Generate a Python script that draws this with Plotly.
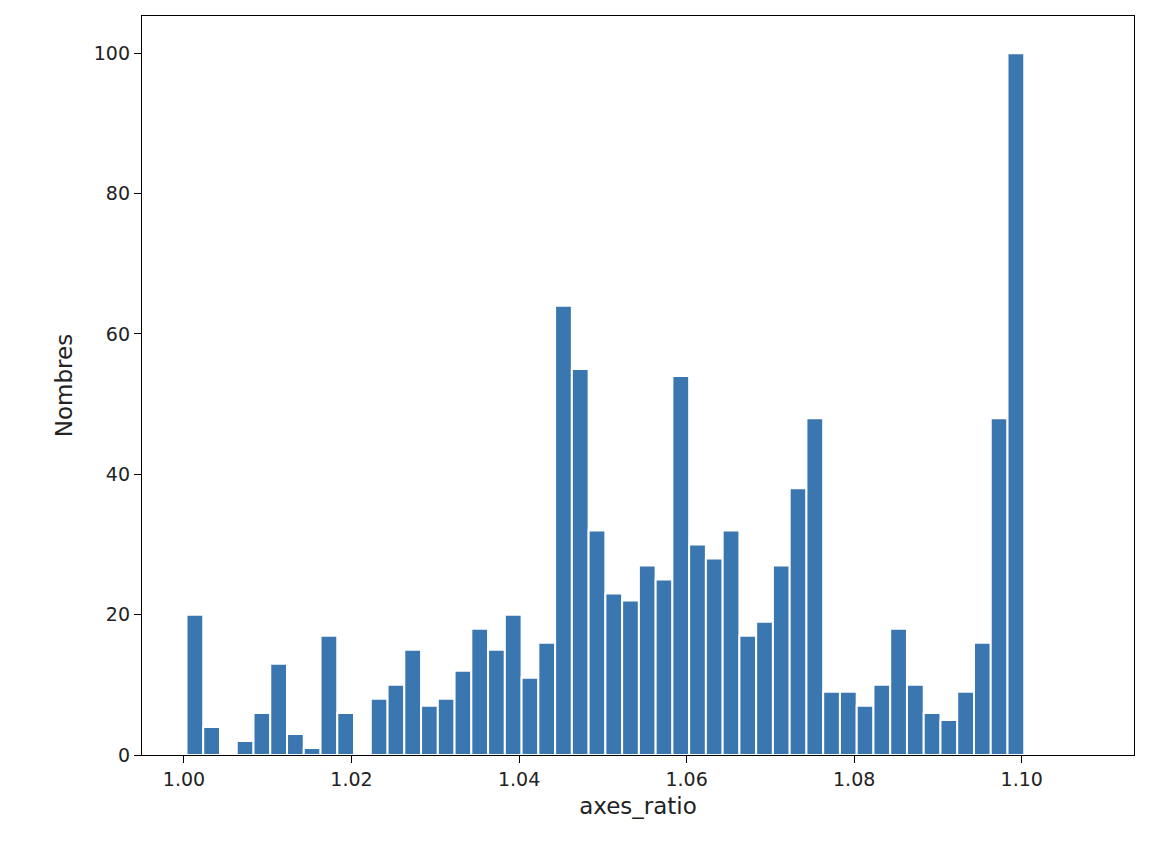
import plotly.graph_objects as go

# histogram of axes_ratio, 50 bins
bin_start = 1.0003
bin_width = 0.002
counts = [20, 4, 0, 2, 6, 13, 3, 1, 17, 6,
          0, 8, 10, 15, 7, 8, 12, 18, 15, 20,
          11, 16, 64, 55, 32, 23, 22, 27, 25, 54,
          30, 28, 32, 17, 19, 27, 38, 48, 9, 9,
          7, 10, 18, 10, 6, 5, 9, 16, 48, 100]
centers = [bin_start + bin_width * (i + 0.5) for i in range(len(counts))]
tick_vals = [1.00, 1.02, 1.04, 1.06, 1.08, 1.10]
tick_text = ['1.00', '1.02', '1.04', '1.06', '1.08', '1.10']

fig = go.Figure(go.Bar(
    x=centers, y=counts, width=bin_width,
    marker=dict(color='#3a76af', line=dict(color='white', width=2)),
))
fig.update_layout(
    width=1162, height=852,
    paper_bgcolor='white', plot_bgcolor='white',
    margin=dict(l=134, r=36, t=8, b=105),
    showlegend=False,
    font=dict(family='DejaVu Sans', size=19, color='#222'),
)
fig.update_xaxes(
    range=[0.99499, 1.1134], tickvals=tick_vals, ticktext=tick_text,
    title_text='axes_ratio', title_standoff=8,
    showline=True, linecolor='black', mirror=True, linewidth=1.3,
    ticks='outside', ticklen=7, tickcolor='black', showgrid=False, zeroline=False,
)
fig.update_yaxes(
    range=[0, 105.3], tickvals=[0, 20, 40, 60, 80, 100],
    title_text='Nombres', title_standoff=14,
    showline=True, linecolor='black', mirror=True, linewidth=1.3,
    ticks='outside', ticklen=7, tickcolor='black', showgrid=False, zeroline=False,
)
fig.write_html("out.html")
